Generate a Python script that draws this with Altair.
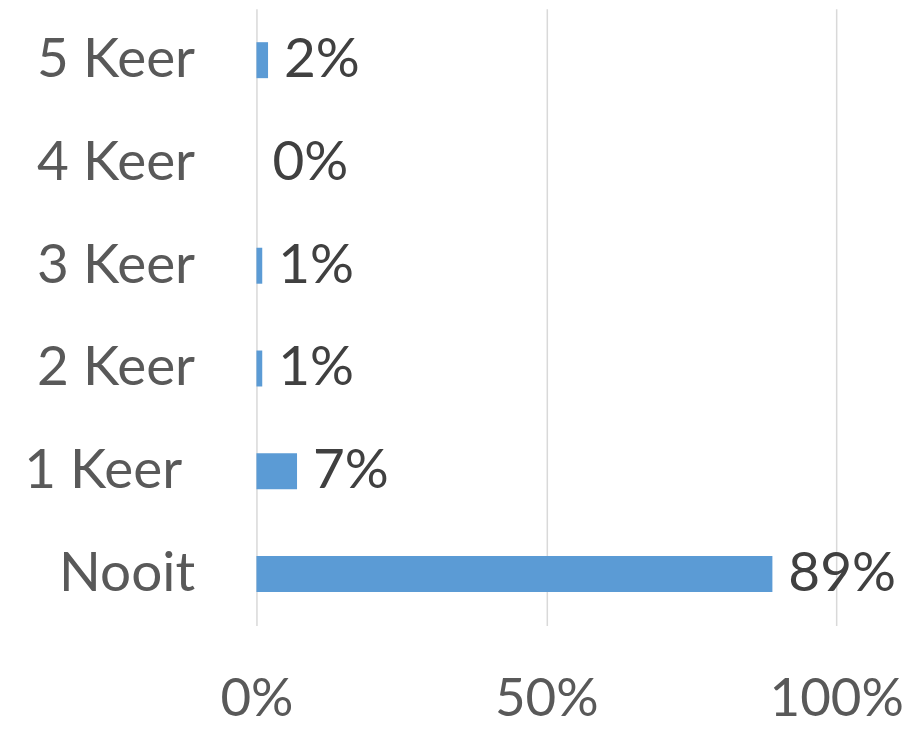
import altair as alt
import pandas as pd

categories = ["5 Keer", "4 Keer", "3 Keer", "2 Keer", "1 Keer\u00a0\u200b", "Nooit"]
values = [0.02, 0.00, 0.01, 0.01, 0.07, 0.89]
x_ticks = [0, 0.5, 1.0]

df = pd.DataFrame({"cat": categories, "val": values})

FONT = "Lato"

y_enc = alt.Y("cat:N", sort=categories, title=None,
              scale=alt.Scale(paddingInner=0.65, paddingOuter=0.325),
              axis=alt.Axis(labelFont=FONT, labelFontSize=55, labelColor="#595959",
                            labelPadding=62, ticks=False, domain=False, grid=False,
                            labelLimit=400))
x_enc = alt.X("val:Q", title=None,
              scale=alt.Scale(domain=[0, 1], nice=False, zero=True),
              axis=alt.Axis(values=x_ticks, format=".0%", labelFont=FONT,
                            labelFontSize=53, labelColor="#595959", labelPadding=48,
                            ticks=False, domain=False, grid=True, gridColor="#d9d9d9",
                            gridWidth=1.5, labelFlush=False))

bars = alt.Chart(df).mark_bar(color="#5b9bd5").encode(x=x_enc, y=y_enc)
labels = alt.Chart(df).mark_text(align="left", baseline="middle", dx=16,
                                 font=FONT, fontSize=55, color="#404040").encode(
    x=alt.X("val:Q"), y=alt.Y("cat:N", sort=categories),
    text=alt.Text("val:Q", format=".0%"))

chart = (bars + labels).properties(
    width=581, height=618,
    background="white",
    autosize=alt.AutoSizeParams(type="none"),
    padding={"left": 249, "top": 0, "right": 75, "bottom": 100},
).configure_view(stroke=None)

chart.save("out.html", embed_options={"renderer": "svg", "actions": False})
